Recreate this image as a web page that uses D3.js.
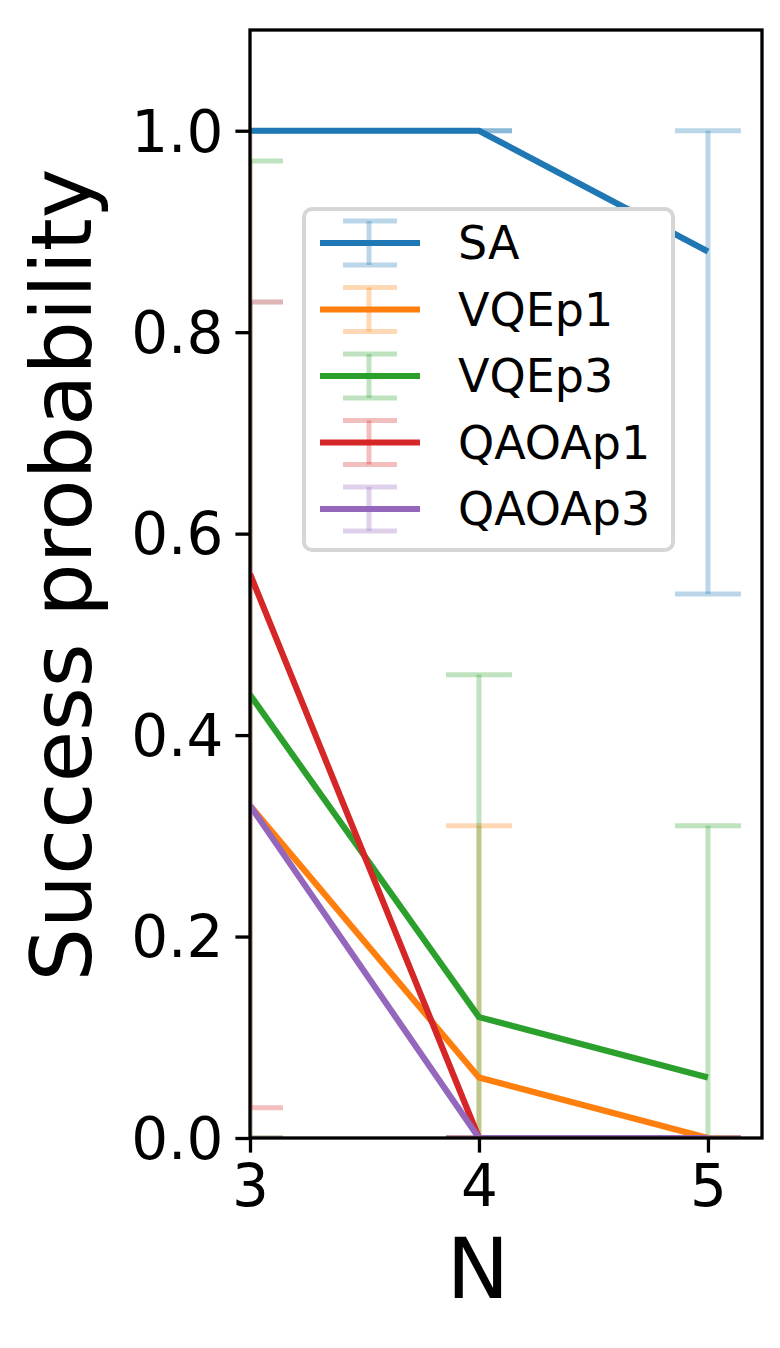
<!DOCTYPE html>
<html>
<head>
<meta charset="utf-8">
<script src="https://cdn.jsdelivr.net/npm/d3@7"></script>
<style>
  html, body { margin: 0; padding: 0; background: #fff; }
  svg { display: block; font-family: "DejaVu Sans", sans-serif; }
</style>
</head>
<body>
<svg id="chart" width="780" height="1348"></svg>
<script>
// values
const nValues = [3, 4, 5];
const seriesNames = ["SA", "VQEp1", "VQEp3", "QAOAp1", "QAOAp3"];
const seriesColors = ["#1f77b4", "#ff7f0e", "#2ca02c", "#d62728", "#9467bd"];

const saMean = [1.0, 1.0, 0.88];
const saLow = [1.0, 1.0, 0.54];
const saHigh = [1.0, 1.0, 1.0];

const vqe1Mean = [0.33, 0.06, 0.0];
const vqe1Low = [0.0, 0.0, 0.0];
const vqe1High = [0.83, 0.31, 0.0];

const vqe3Mean = [0.44, 0.12, 0.06];
const vqe3Low = [0.0, 0.0, 0.0];
const vqe3High = [0.97, 0.46, 0.31];

const qaoa1Mean = [0.56, 0.0, 0.0];
const qaoa1Low = [0.03, 0.0, 0.0];
const qaoa1High = [1.0, 0.0, 0.0];

const qaoa3Mean = [0.33, 0.0, 0.0];
const qaoa3Low = [0.0, 0.0, 0.0];
const qaoa3High = [0.83, 0.0, 0.0];

const xTicks = [3, 4, 5];
const yTicks = [0.0, 0.2, 0.4, 0.6, 0.8, 1.0];

const means = [saMean, vqe1Mean, vqe3Mean, qaoa1Mean, qaoa3Mean];
const lows = [saLow, vqe1Low, vqe3Low, qaoa1Low, qaoa3Low];
const highs = [saHigh, vqe1High, vqe3High, qaoa1High, qaoa3High];

const series = seriesNames.map((name, i) => ({
  name: name,
  color: seriesColors[i],
  points: nValues.map((n, j) => ({ n: n, v: means[i][j], lo: lows[i][j], hi: highs[i][j] }))
}));

// layout
const plotLeft = 250, plotRight = 762, plotTop = 30, plotBottom = 1138;
const lineW = 6.2, errW = 5, capHalf = 33;
const tickFont = 58, labelFont = 84, legendFont = 46;

const x = d3.scaleLinear().domain([3, 5.236]).range([plotLeft, plotRight]);
const y = d3.scaleLinear().domain([0, 1.1]).range([plotBottom, plotTop]);

const svg = d3.select("#chart");

svg.append("defs").append("clipPath").attr("id", "plotClip")
  .append("rect")
  .attr("x", plotLeft).attr("y", plotTop)
  .attr("width", plotRight - plotLeft).attr("height", plotBottom - plotTop);

const plot = svg.append("g").attr("clip-path", "url(#plotClip)");

// error bars first, lines on top (as matplotlib does)
series.forEach((s) => {
  const eb = plot.append("g")
    .attr("stroke", s.color)
    .attr("stroke-opacity", 0.3)
    .attr("stroke-width", errW);
  s.points.forEach((p) => {
    eb.append("line")
      .attr("x1", x(p.n)).attr("x2", x(p.n))
      .attr("y1", y(p.lo)).attr("y2", y(p.hi));
    [p.lo, p.hi].forEach((c) => {
      eb.append("line")
        .attr("x1", x(p.n) - capHalf).attr("x2", x(p.n) + capHalf)
        .attr("y1", y(c)).attr("y2", y(c));
    });
  });
});

const line = d3.line().x((d) => x(d.n)).y((d) => y(d.v));

series.forEach((s) => {
  plot.append("path")
    .datum(s.points)
    .attr("d", line)
    .attr("fill", "none")
    .attr("stroke", s.color)
    .attr("stroke-width", lineW)
    .attr("stroke-linejoin", "round")
    .attr("stroke-linecap", "butt");
});

// axes
const xAxis = svg.append("g")
  .attr("transform", `translate(0,${plotBottom})`)
  .call(d3.axisBottom(x).tickValues(xTicks).tickFormat(d3.format("d"))
    .tickSize(14.6).tickPadding(12));

const yAxis = svg.append("g")
  .attr("transform", `translate(${plotLeft},0)`)
  .call(d3.axisLeft(y).tickValues(yTicks).tickFormat(d3.format(".1f"))
    .tickSize(14.6).tickPadding(12));

[xAxis, yAxis].forEach((a) => {
  a.select(".domain").remove();
  a.selectAll(".tick line").attr("stroke", "#000").attr("stroke-width", 3.3);
  a.selectAll(".tick text")
    .attr("fill", "#000")
    .attr("font-size", tickFont)
    .attr("font-family", "DejaVu Sans");
});
yAxis.selectAll(".tick text").attr("dy", "0.35em");

// spines
svg.append("rect")
  .attr("x", plotLeft).attr("y", plotTop)
  .attr("width", plotRight - plotLeft).attr("height", plotBottom - plotTop)
  .attr("fill", "none")
  .attr("stroke", "#000")
  .attr("stroke-width", 3.3);

// axis labels
svg.append("text")
  .attr("x", 478)
  .attr("y", 1298)
  .attr("text-anchor", "middle")
  .attr("font-size", labelFont)
  .text("N");

svg.append("text")
  .attr("transform", "translate(91,575) rotate(-90)")
  .attr("text-anchor", "middle")
  .attr("font-size", labelFont)
  .text("Success probability");

// legend
const legend = svg.append("g");
legend.append("rect")
  .attr("x", 304).attr("y", 209)
  .attr("width", 369).attr("height", 341)
  .attr("rx", 8).attr("ry", 8)
  .attr("fill", "#fff")
  .attr("stroke", "#d6d6d6")
  .attr("stroke-width", 4);

series.forEach((s, i) => {
  const cy = 243 + i * 66.5;
  const g = legend.append("g");
  const eb = g.append("g")
    .attr("stroke", s.color)
    .attr("stroke-opacity", 0.3)
    .attr("stroke-width", errW);
  eb.append("line").attr("x1", 369).attr("x2", 369).attr("y1", cy - 22).attr("y2", cy + 22);
  [cy - 22, cy + 22].forEach((c) => {
    eb.append("line").attr("x1", 343).attr("x2", 397).attr("y1", c).attr("y2", c);
  });
  g.append("line")
    .attr("x1", 320).attr("x2", 420)
    .attr("y1", cy).attr("y2", cy)
    .attr("stroke", s.color)
    .attr("stroke-width", lineW);
  g.append("text")
    .attr("x", 458)
    .attr("y", cy + 16)
    .attr("font-size", legendFont)
    .text(s.name);
});
</script>
</body>
</html>
